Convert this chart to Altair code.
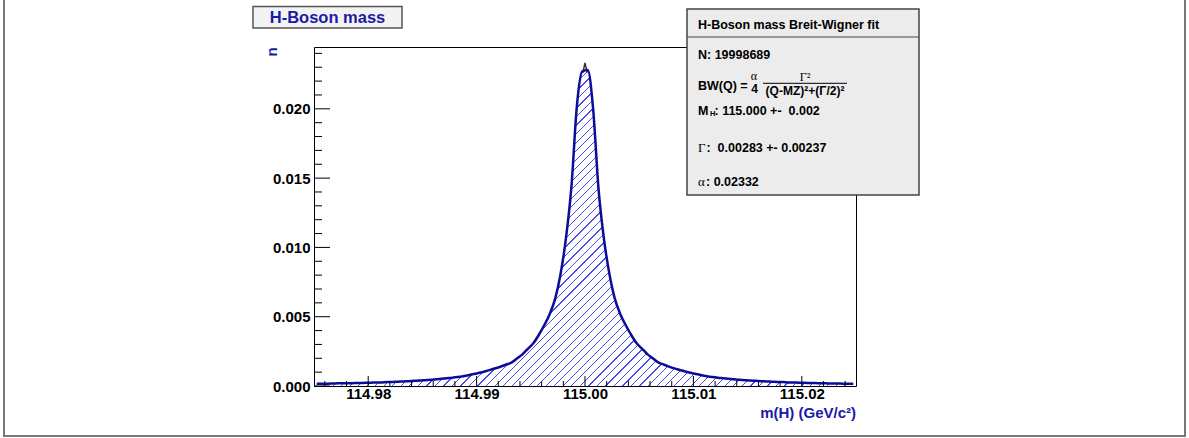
import altair as alt
import pandas as pd

# ---------------- data ----------------
X_RANGE = [114.975, 115.025]
Y_MAX = 0.02446

LEFT_COUNTS = [0.00016, 0.00017, 0.00017, 0.00018, 0.00019, 0.00019, 0.00020, 0.00021, 0.00022,
               0.00023, 0.00024, 0.00025, 0.00026, 0.00028, 0.00029, 0.00031, 0.00033, 0.00035, 0.00037,
               0.00039, 0.00042, 0.00045, 0.00048, 0.00052, 0.00056, 0.00060, 0.00065, 0.00071, 0.00078,
               0.00086, 0.00095, 0.00105, 0.00116, 0.00128, 0.00141, 0.00155, 0.0017, 0.0020, 0.0023,
               0.0027, 0.0031, 0.0037, 0.0044, 0.0052, 0.0063, 0.0081, 0.0107, 0.0144, 0.0202, 0.0227]
RIGHT_COUNTS = [0.0228, 0.0200, 0.0142, 0.0106, 0.0081, 0.0063, 0.0052, 0.0044, 0.0037, 0.0031,
                0.0027, 0.0023, 0.0020, 0.0017, 0.00155, 0.00140, 0.00127, 0.00116, 0.00105, 0.00095,
                0.00086, 0.00078, 0.00071, 0.00065, 0.00060, 0.00056, 0.00052, 0.00048, 0.00045, 0.00042,
                0.00039, 0.00037, 0.00035, 0.00033, 0.00031, 0.00029, 0.00028, 0.00026, 0.00025, 0.00024,
                0.00023, 0.00022, 0.00021, 0.00020, 0.00019, 0.00018, 0.00018, 0.00017, 0.00016, 0.00016]
COUNTS = LEFT_COUNTS + RIGHT_COUNTS

FIT_PEAK_X = [114.9998, 115.0000, 115.0002]
FIT_PEAK_Y = [0.0226, 0.02332, 0.0226]

X_MAJOR = [114.98, 114.99, 115.00, 115.01, 115.02]
X_MINOR = [114.976, 114.978, 114.982, 114.984, 114.986, 114.988, 114.992, 114.994, 114.996, 114.998,
           115.002, 115.004, 115.006, 115.008, 115.012, 115.014, 115.016, 115.018, 115.022, 115.024]
Y_MAJOR = [0.000, 0.005, 0.010, 0.015, 0.020]
Y_MINOR = [0.001, 0.002, 0.003, 0.004, 0.006, 0.007, 0.008, 0.009, 0.011, 0.012, 0.013, 0.014,
           0.016, 0.017, 0.018, 0.019, 0.021, 0.022, 0.023, 0.024]

TITLE = "H-Boson mass"
X_TITLE = "m(H) (GeV/c²)"
Y_TITLE = "n"
STATS_TITLE = "H-Boson mass Breit-Wigner fit"
STATS_N = "N: 19998689"
STATS_M = ": 115.000 +-\u00a0 0.002"
STATS_G = ":\u00a0 0.00283 +- 0.00237"
STATS_A = ": 0.02332"

# ---------------- styling ----------------
W, H = 542, 339
NAVY = "#0c0c98"
TEXT_NAVY = "#1a1aa6"
HATCH_BLUE = "#4a4aee"
SANS = "Liberation Sans"
SERIF = "Liberation Serif"

nb = len(COUNTS)
step = (X_RANGE[1] - X_RANGE[0]) / nb
centers = [X_RANGE[0] + (i + 0.5) * step for i in range(nb)]
hist = pd.DataFrame({"x": centers, "n": COUNTS})

# hatch made of a striped linear gradient (45 degree stripes)
bw = W * (1 - 1.0 / nb)
bh = H * max(COUNTS) / Y_MAX
r = bh / bw
s = (1 + r) / (1 + r * r)
NSTRIPE = 100
frac = 0.14
stops = []
for i in range(NSTRIPE):
    a = i / NSTRIPE
    b = (i + 1 - frac) / NSTRIPE
    c = (i + 1) / NSTRIPE
    stops += [{"offset": round(a, 6), "color": "white"},
              {"offset": round(b, 6), "color": "white"},
              {"offset": round(b, 6), "color": HATCH_BLUE},
              {"offset": round(c, 6), "color": HATCH_BLUE}]
HATCH = {"gradient": "linear", "x1": 0, "y1": 0, "x2": round(s, 4), "y2": round(s * r, 4), "stops": stops}

xs = alt.Scale(domain=X_RANGE, nice=False, zero=False)
ys = alt.Scale(domain=[0, Y_MAX], nice=False, zero=False)

axis_common = dict(ticks=False, domain=False, grid=False, labelFont=SANS, labelFontWeight="bold",
                   labelFontSize=15, labelColor="black", title=None, labelFlush=False,
                   labelOverlap=False)
X_AX = alt.Axis(values=X_MAJOR, format=".2f", labelPadding=0, **axis_common)
Y_AX = alt.Axis(values=Y_MAJOR, format=".3f", labelPadding=4, **axis_common)


def X(field):
    return alt.X(field, type="quantitative", scale=xs, axis=X_AX, title=None)


def Y(field):
    return alt.Y(field, type="quantitative", scale=ys, axis=Y_AX, title=None)


one = pd.DataFrame({"k": [0]})


def txt(s, x, y, size=12.5, color="black", font=SANS, weight="bold", align="left", angle=None):
    kw = dict(text=s, fontSize=size, color=color, font=font, fontWeight=weight, align=align, baseline="middle")
    if angle is not None:
        kw["angle"] = angle
    return alt.Chart(one).mark_text(**kw).encode(x=alt.value(x), y=alt.value(y))


def box(x1, y1, x2, y2, fill, stroke, sw):
    return alt.Chart(one).mark_rect(fill=fill, stroke=stroke, strokeWidth=sw).encode(
        x=alt.value(x1), x2=alt.value(x2), y=alt.value(y1), y2=alt.value(y2))


def hline(x1, x2, y, color="black", sw=1):
    return alt.Chart(one).mark_rule(color=color, strokeWidth=sw).encode(
        x=alt.value(x1), x2=alt.value(x2), y=alt.value(y))


area = alt.Chart(hist).mark_area(interpolate="monotone", fill=HATCH, opacity=1).encode(
    x=X("x"), y=Y("n"))
outline = alt.Chart(hist).mark_line(interpolate="monotone", color=NAVY, strokeWidth=2.5).encode(
    x=X("x"), y=Y("n"))

fit_tip = alt.Chart(pd.DataFrame({"x": FIT_PEAK_X, "y": FIT_PEAK_Y})).mark_line(
    color="#333333", strokeWidth=1.5).encode(x=X("x"), y=Y("y"))


def yticks(vals, length):
    return alt.Chart(pd.DataFrame({"v": vals})).mark_rule(color="black", strokeWidth=1).encode(
        y=Y("v"), x=alt.value(0), x2=alt.value(length))


def xticks(vals, length):
    return alt.Chart(pd.DataFrame({"v": vals})).mark_rule(color="black", strokeWidth=1).encode(
        x=X("v"), y=alt.value(H), y2=alt.value(H - length))


layers = [
    area,
    box(-310, -60, 871, 389, "transparent", "#777777", 2),
    fit_tip,
    outline,
    yticks(Y_MAJOR, 16), yticks(Y_MINOR, 8),
    xticks(X_MAJOR, 10), xticks(X_MINOR, 5),
    # title box
    box(-61, -40.5, 88, -19, "#f3f3f3", "#555555", 1.5),
    txt(TITLE, 13.5, -29, size=16.5, color=TEXT_NAVY, align="center"),
    # axis titles
    txt(Y_TITLE, -42, 5, size=15, color=TEXT_NAVY, align="center", angle=270),
    txt(X_TITLE, 542, 366, size=15, color=TEXT_NAVY, align="right"),
    # stats box
    box(373, -38, 605, 148, "#ececec", "#444444", 1.5),
    hline(373, 605, -10, "#444444", 1.2),
    txt(STATS_TITLE, 384, -22),
    txt(STATS_N, 384, 8),
    txt("BW(Q) =", 384, 39),
    txt("α", 440, 28.5, size=12, font=SERIF, weight="normal", align="center"),
    txt("4", 440.5, 42, size=12, align="center"),
    txt("Γ²", 491, 30, size=12, font=SERIF, weight="normal", align="center"),
    hline(449, 533, 36.3, "black", 1),
    txt("(Q-MZ)²+(Γ/2)²", 491, 44, size=12, align="center"),
    txt("M", 384, 63.5),
    txt("H", 396, 67, size=7.5),
    txt(STATS_M, 400.5, 63.5),
    txt("Γ", 384, 101, size=13, font=SERIF, weight="normal"),
    txt(STATS_G, 392.5, 101),
    txt("α", 384, 134.5, size=13, font=SERIF, weight="normal"),
    txt(STATS_A, 392, 134.5),
]

chart = alt.layer(*layers).properties(
    width=W, height=H,
    padding={"left": 314, "top": 47, "right": 333, "bottom": 52},
    autosize=alt.AutoSizeParams(type="none"),
    background="white",
).configure_view(stroke="black", strokeWidth=1)

chart.save("out.html", embed_options={"renderer": "svg", "actions": False})
